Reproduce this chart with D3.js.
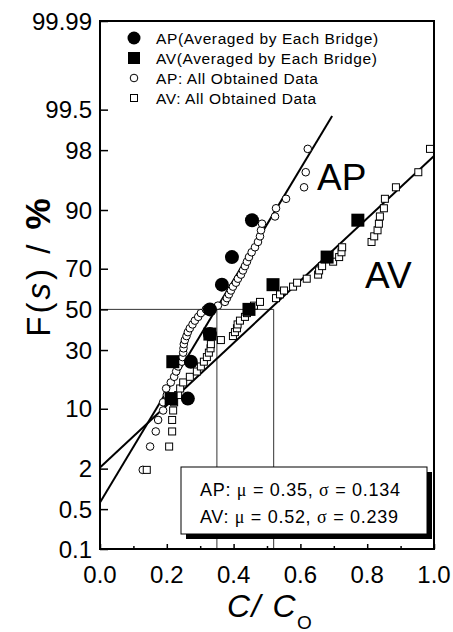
<!DOCTYPE html>
<html>
<head>
<meta charset="utf-8">
<script src="https://d3js.org/d3.v7.min.js"></script>
<style>
body { margin: 0; background: white; }
text { font-family: "Liberation Sans", Arial, sans-serif; }
</style>
</head>
<body>
<div id="chart"></div>
<script>
// averaged by each bridge (7 bridges), plotted at rank positions
var bridgeP = [12.5, 25, 37.5, 50, 62.5, 75, 87.5];
var apBridge = [0.263, 0.272, 0.329, 0.329, 0.365, 0.395, 0.455];
var avBridge = [0.213, 0.218, 0.329, 0.446, 0.518, 0.680, 0.772];

// all obtained data, sorted
var apAll = [0.128, 0.150, 0.167, 0.174, 0.189, 0.189, 0.200, 0.198, 0.212, 0.222,
             0.228, 0.234, 0.245, 0.247, 0.249, 0.250, 0.251, 0.254, 0.259, 0.263,
             0.269, 0.277, 0.284, 0.294, 0.302, 0.317, 0.353, 0.374, 0.380, 0.386,
             0.392, 0.398, 0.407, 0.413, 0.422, 0.428, 0.434, 0.440, 0.446, 0.454,
             0.464, 0.473, 0.479, 0.482, 0.485, 0.524, 0.527, 0.557, 0.611, 0.616,
             0.622];
var avAll = [0.140, 0.207, 0.216, 0.216, 0.219, 0.222, 0.234, 0.240, 0.249, 0.269,
             0.290, 0.302, 0.311, 0.320, 0.326, 0.331, 0.332, 0.362, 0.398, 0.404,
             0.410, 0.412, 0.419, 0.434, 0.440, 0.449, 0.461, 0.479, 0.527, 0.539,
             0.551, 0.578, 0.590, 0.619, 0.653, 0.656, 0.665, 0.698, 0.716, 0.723,
             0.725, 0.813, 0.821, 0.831, 0.835, 0.838, 0.850, 0.853, 0.886, 0.953,
             0.988];

var fitNames = ["AP", "AV"];
var fitMu = [0.35, 0.52];
var fitSigma = [0.134, 0.239];
// fitted lines as drawn: end points (x, F %)
var fitLineX = [[0, 0.695], [0, 1.0]];
var fitLineP = [[0.64, 99.37], [2.07, 97.6]];

var yTicks = [0.1, 0.5, 2, 10, 30, 50, 70, 90, 98, 99.5, 99.99];
var xTicks = [0, 0.2, 0.4, 0.6, 0.8, 1.0];
var xMinor = [0.1, 0.3, 0.5, 0.7, 0.9];

var legendLabels = ["AP(Averaged by Each Bridge)",
                    "AV(Averaged by Each Bridge)",
                    "AP: All Obtained Data",
                    "AV: All Obtained Data"];

// inverse normal cdf (Acklam)
function probit(p) {
    var a = [-39.6968302866538, 220.946098424521, -275.928510446969, 138.357751867269, -30.6647980661472, 2.50662827745924];
    var b = [-54.4765163148382, 161.585836858041, -155.698979859887, 66.8013118877197, -13.2806815528857];
    var c = [-0.00778489400243029, -0.322396458041136, -2.40075827716184, -2.54973253934373, 4.37466414146497, 2.93816398269878];
    var d = [0.00778469570904146, 0.32246712907004, 2.445134137143, 3.75440866190742];
    var q, r;
    if (p < 0.02425) {
        q = Math.sqrt(-2 * Math.log(p));
        return (((((c[0]*q+c[1])*q+c[2])*q+c[3])*q+c[4])*q+c[5]) / ((((d[0]*q+d[1])*q+d[2])*q+d[3])*q+1);
    } else if (p > 1 - 0.02425) {
        q = Math.sqrt(-2 * Math.log(1 - p));
        return -(((((c[0]*q+c[1])*q+c[2])*q+c[3])*q+c[4])*q+c[5]) / ((((d[0]*q+d[1])*q+d[2])*q+d[3])*q+1);
    }
    q = p - 0.5; r = q * q;
    return (((((a[0]*r+a[1])*r+a[2])*r+a[3])*r+a[4])*r+a[5])*q / (((((b[0]*r+b[1])*r+b[2])*r+b[3])*r+b[4])*r+1);
}

var W = 453, H = 632;
var plotL = 100, plotR = 434, plotT = 21, plotB = 549;

var svg = d3.select("#chart").append("svg")
    .attr("width", W).attr("height", H);

var x = d3.scaleLinear().domain([0, 1]).range([plotL, plotR]);
var zScale = d3.scaleLinear().domain([probit(0.001), probit(0.9999)]).range([plotB, plotT]);
var y = function(pct) { return zScale(probit(pct / 100)); };

// reference lines at 50 %
var g = svg.append("g");
g.append("line").attr("x1", x(0)).attr("x2", x(fitMu[1]))
    .attr("y1", y(50)).attr("y2", y(50))
    .attr("stroke", "#333").attr("stroke-width", 1);
fitMu.forEach(function(m) {
    g.append("line").attr("x1", x(m)).attr("x2", x(m))
        .attr("y1", y(50)).attr("y2", plotB)
        .attr("stroke", "#333").attr("stroke-width", 1);
});

// fitted lines
fitNames.forEach(function(n, i) {
    var pts = fitLineX[i].map(function(v, j) { return [x(v), y(fitLineP[i][j])]; });
    svg.append("path").attr("d", d3.line()(pts))
        .attr("fill", "none").attr("stroke", "black").attr("stroke-width", 2);
});

// all obtained data
var n1 = apAll.length, n2 = avAll.length;
svg.append("g").selectAll("circle").data(apAll).enter().append("circle")
    .attr("cx", function(d) { return x(d); })
    .attr("cy", function(d, i) { return y((i + 1) / (n1 + 1) * 100); })
    .attr("r", 3.8).attr("fill", "white").attr("stroke", "black").attr("stroke-width", 1);
svg.append("g").selectAll("rect").data(avAll).enter().append("rect")
    .attr("x", function(d) { return x(d) - 3.5; })
    .attr("y", function(d, i) { return y((i + 1) / (n2 + 1) * 100) - 3.5; })
    .attr("width", 7).attr("height", 7)
    .attr("fill", "white").attr("stroke", "black").attr("stroke-width", 1);

// averaged by bridge
svg.append("g").selectAll("circle").data(apBridge).enter().append("circle")
    .attr("cx", function(d) { return x(d); })
    .attr("cy", function(d, i) { return y(bridgeP[i]); })
    .attr("r", 7).attr("fill", "black");
svg.append("g").selectAll("rect").data(avBridge).enter().append("rect")
    .attr("x", function(d) { return x(d) - 6.5; })
    .attr("y", function(d, i) { return y(bridgeP[i]) - 6.5; })
    .attr("width", 13).attr("height", 13).attr("fill", "black");

// frame
svg.append("rect").attr("x", plotL).attr("y", plotT)
    .attr("width", plotR - plotL).attr("height", plotB - plotT)
    .attr("fill", "none").attr("stroke", "black").attr("stroke-width", 2);

// axes (inner ticks)
var yAxis = d3.axisRight(zScale)
    .tickValues(yTicks.map(function(t) { return probit(t / 100); }))
    .tickFormat("").tickSize(8).tickSizeOuter(0);
svg.append("g").attr("transform", "translate(" + plotL + ",0)").call(yAxis)
    .call(function(s) { s.select(".domain").remove(); s.selectAll("line").attr("stroke-width", 1.5); });
svg.append("g").selectAll("text").data(yTicks).enter().append("text")
    .attr("x", plotL - 8).attr("y", function(d) { return y(d) + 8.5; })
    .attr("text-anchor", "end").attr("font-size", 24).text(function(d) { return d; });

var xAxis = d3.axisTop(x).tickValues(xTicks).tickFormat("").tickSize(5).tickSizeOuter(0);
svg.append("g").attr("transform", "translate(0," + plotB + ")").call(xAxis)
    .call(function(s) { s.select(".domain").remove(); s.selectAll("line").attr("stroke-width", 1.5); });
var xAxisMinor = d3.axisTop(x).tickValues(xMinor).tickFormat("").tickSize(3).tickSizeOuter(0);
svg.append("g").attr("transform", "translate(0," + plotB + ")").call(xAxisMinor)
    .call(function(s) { s.select(".domain").remove(); s.selectAll("line").attr("stroke-width", 1.5); });
svg.append("g").selectAll("text").data(xTicks).enter().append("text")
    .attr("x", function(d) { return x(d); }).attr("y", plotB + 34)
    .attr("text-anchor", "middle").attr("font-size", 24)
    .text(function(d) { return d3.format(".1f")(d); });

// legend
var lg = svg.append("g");
var rowY = [38, 58, 78, 98];
lg.append("circle").attr("cx", 134).attr("cy", rowY[0]).attr("r", 6.5).attr("fill", "black");
lg.append("rect").attr("x", 128).attr("y", rowY[1] - 6).attr("width", 12).attr("height", 12).attr("fill", "black");
lg.append("circle").attr("cx", 134).attr("cy", rowY[2]).attr("r", 3.8)
    .attr("fill", "white").attr("stroke", "black");
lg.append("rect").attr("x", 130.5).attr("y", rowY[3] - 3.5).attr("width", 7).attr("height", 7)
    .attr("fill", "white").attr("stroke", "black");
lg.selectAll("text").data(legendLabels).enter().append("text")
    .attr("x", 156).attr("y", function(d, i) { return rowY[i] + 5.5; })
    .attr("font-size", 15.5).attr("letter-spacing", 0.6).text(function(d) { return d; });

// line labels
svg.append("text").attr("x", 317).attr("y", 190).attr("font-size", 37).text("AP");
svg.append("text").attr("x", 365).attr("y", 288).attr("font-size", 37).text("AV");

// stats box
svg.append("rect").attr("x", 186).attr("y", 472).attr("width", 246).attr("height", 67).attr("fill", "black");
svg.append("rect").attr("x", 181).attr("y", 467).attr("width", 246).attr("height", 67)
    .attr("fill", "white").attr("stroke", "black").attr("stroke-width", 1);
var statLines = svg.append("g").selectAll("text").data(fitNames).enter().append("text")
    .attr("x", 200).attr("y", function(d, i) { return 496 + i * 27; })
    .attr("font-size", 18).attr("letter-spacing", 0.7);
statLines.append("tspan").text(function(d) { return d + ": "; });
statLines.append("tspan").attr("font-family", "Liberation Serif, serif").text("\u03bc");
statLines.append("tspan").text(function(d, i) { return " = " + fitMu[i].toFixed(2) + ", "; });
statLines.append("tspan").attr("font-family", "Liberation Serif, serif").text("\u03c3");
statLines.append("tspan").text(function(d, i) { return " = " + fitSigma[i].toFixed(3); });

// axis titles
var yt = svg.append("text").attr("transform", "translate(50,266) rotate(-90)")
    .attr("text-anchor", "middle").attr("font-size", 33).attr("letter-spacing", 3);
yt.append("tspan").text("F(");
yt.append("tspan").attr("font-style", "italic").text("s");
yt.append("tspan").text(") / ");
yt.append("tspan").attr("font-weight", "bold").attr("font-size", 35).text("%");

var xt = svg.append("text").attr("x", 227).attr("y", 617).attr("font-size", 32);
xt.append("tspan").attr("font-style", "italic").attr("letter-spacing", 1.5).text("C/ C");
xt.append("tspan").attr("font-size", 19).attr("dy", 12).text("O");
</script>
</body>
</html>
